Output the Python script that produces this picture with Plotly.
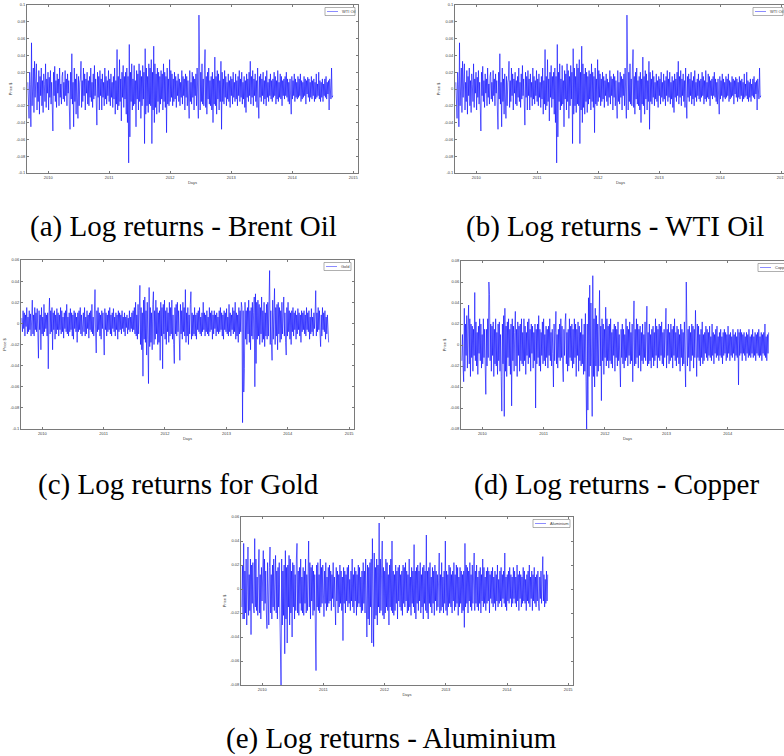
import numpy as np
import pandas as pd
import plotly.graph_objects as go

# ---------------- data (log returns, in thousandths) ----------------
start_date = "2009-09-01"
end_date = "2014-09-01"
year_ticks = ["2010", "2011", "2012", "2013", "2014", "2015"]

wti_milli = [
    8, -12, -35, 20, 5, -45, 55, -20, 12, 25, -28, 33, -10, 18, 30, -25, 8, -15, 22, -30,
    15, -8, 25, -20, 10, -28, 18, 5, -15, 30, -22, 12, -5, 20, -25, 14, -10, 22, -18, 8,
    -12, -50, 20, -8, 27, -15, 10, -22, 18, -5, 12, -20, 25, -10, 6, -18, 15, 20, -12, 8,
    -15, 22, -8, 12, -20, 18, -5, 10, -25, -48, 20, -12, 42, -18, 8, -45, 25, -15, 12, -30,
    18, -10, -35, 15, -20, 8, 12, 33, -22, 10, -15, 25, -8, 18, -25, 12, -5, 20, -18, 10,
    -20, 15, -10, 25, -15, 8, -22, 18, -12, 28, -8, 12, -18, -43, 20, -10, 15, -25, 22, -8,
    12, -25, 18, -10, 8, -20, 25, -12, 15, -18, 10, -8, 22, -15, 12, -20, 18, -10, 8, -22,
    15, -12, 25, -30, 10, -18, 47, -25, 15, -20, 35, -15, 12, -38, 20, -10, 28, -22, 15, -12,
    20, -30, 25, -40, 15, -88, 53, -57, 20, -15, 30, -25, 12, -20, 28, -18, 10, -45, 22, -12,
    18, -25, 30, -15, 22, -35, 15, -20, 28, -12, 20, -65, 48, -30, 25, -20, 15, -28, 30, -18,
    25, -20, 35, -65, 20, -25, 51, -40, 30, -22, 18, -30, 25, -15, 20, -28, 15, -18, 22, -12,
    18, -25, 30, -15, 20, -22, 15, -52, 25, -18, 12, -20, 35, -15, 22, -10, 18, -20, 12, -15,
    20, -12, 15, -22, 10, -8, 18, -15, 12, -20, 8, -10, 22, -18, 15, -8, 12, -25, 18, -10,
    15, -20, 10, -12, -35, 22, -15, 8, -18, 20, -10, 15, -25, 12, -8, 18, -20, 25, -15, -35,
    88, 45, -25, 20, -15, 30, -18, 12, -20, 25, 47, -22, 15, -30, 20, -12, 25, -18, 10, -20,
    15, -25, 20, -40, 12, -18, 38, -20, 15, -30, 22, -12, 18, -25, 10, -15, 33, -48, 20, -15,
    12, -18, 22, -10, 15, -20, 8, -12, 18, -15, 10, -22, 15, -8, 12, -18, 20, -10, 8, -15,
    18, -12, 10, -20, 15, -8, 22, -15, 12, -10, 20, -18, 8, -12, 15, -22, 10, -28, 18, -10,
    12, -15, 20, -8, 33, -18, 15, -10, 22, -20, 12, -8, 18, -15, 10, -22, 25, -12, -35, 15,
    -10, 18, -15, 12, -8, 20, -18, 10, -12, 15, -20, 22, -10, 8, -15, 12, -8, 18, -12, 10,
    -15, 12, -10, 20, -8, 15, -18, 10, -12, 22, -15, 8, -10, 18, -12, 15, -20, 10, -8, 12,
    -12, 15, -8, 20, -10, 12, -15, 8, -18, 12, -10, -30, 15, -12, 10, -8, 18, -15, 12, -10,
    8, -12, 15, -10, 12, -8, 18, -15, 10, -12, 8, -10, 15, -8, 12, -18, 10, -6, 14, -10,
    12, -15, 8, -10, 15, -12, 10, -8, 12, -15, 8, -12, 18, -10, 6, -8, 20, -12, 10, -15,
    8, -10, 12, -15, 6, -8, 12, -10, 15, -12, 8, -6, 10, -25, 12, -8, -12, 25, -10, -8,
]

gold_milli = [
    5, -8, 12, -5, 10, -12, 8, -3, 15, -10, 6, -8, 12, -6, 9, -12, 4, 22, -10, 8,
    -12, 15, -6, 10, -8, 14, -10, -33, 12, -6, 8, -25, 15, -10, 6, -12, 18, -8, 10, -5,
    8, -12, 10, -43, 6, 24, -10, 12, -8, 15, -25, 10, -6, 12, -15, 8, -10, 14, -6, 10,
    -12, 8, -6, 15, -10, 12, -8, 6, -14, 10, -5, 12, -8, 18, -10, 6, -12, 10, -8, 14,
    -6, 10, -12, 8, -15, 12, -5, 10, -8, 6, -18, 10, -8, 12, -6, 15, -10, 8, -12, 6,
    10, -8, 15, -12, 6, -10, 12, -5, 8, -14, 10, -6, 12, -8, 18, -10, 6, -12, 8, 32,
    -10, -28, 12, -8, 15, -6, 10, -12, 8, -15, 12, -5, 10, -8, -30, 14, -6, 10, -12, 8,
    -8, 12, -6, 15, -10, 8, -12, 10, -5, 14, -8, 6, -12, 10, -6, 8, -15, 12, -8, 10,
    -6, 8, -10, 12, -5, 6, -8, 10, -12, 6, -4, 8, -10, 5, -6, 12, -8, 6, -5, 10,
    -8, 12, -6, 15, -10, 20, -12, 8, -15, 18, -10, 12, 36, -20, 15, -25, 10, -50, 22, -15,
    25, -18, 12, -30, 20, -15, -57, 34, -22, 15, -18, 10, -25, 18, 30, -20, 12, -15, 22, -10,
    15, -20, 10, -18, 12, -35, 20, -12, 15, -43, 18, -10, 22, -15, 12, -20, 15, -8, 10, -18,
    20, -12, 15, -10, 22, -15, 8, -20, -38, 15, -10, 18, -12, 20, -8, 12, -15, -35, 18, -10,
    12, -15, 20, -8, 15, -12, 32, -18, 10, -12, 15, -20, 8, -10, 18, 30, -15, 10, -12, 8,
    -10, 15, -12, 8, -15, 10, -6, 12, -8, 15, -10, 6, -12, 10, -8, 20, -6, 10, -12, 8,
    -8, 12, -10, 6, -12, 15, -8, 10, -6, 12, -15, 8, -10, 12, -5, 8, -12, 10, -8, 6,
    -10, 12, -8, 15, -6, 10, -12, 8, -15, 12, -6, 10, -8, 14, -10, 6, -12, 18, -8, 10,
    -12, 8, -6, 15, -10, 12, -8, 20, -15, 10, -12, 8, -18, 15, -10, 12, -8, 20, 15, -94,
    12, -65, -43, 20, -15, 12, -20, 15, -10, 22, -18, 12, -25, 15, -12, 20, -15, 10, 25, -60,
    28, -38, 20, -15, 22, -12, 18, -20, 15, -10, 25, -18, 12, -15, 20, -22, 10, -12, 18, -15,
    20, -12, 15, 50, -20, 12, -18, -35, 22, -15, 10, 33, -20, 15, -12, 18, -25, 20, -10, 15,
    -18, 12, -15, 20, -10, 15, 25, -12, 10, -18, -30, 15, -12, 20, -8, 12, -15, 10, -20, 12,
    -8, 15, -12, 10, -6, 12, -15, 8, -10, 14, -6, 10, -12, 8, -18, 12, -8, 10, -6, 12,
    -10, 8, -12, 15, -6, 10, -8, 12, -15, 6, -10, 14, -8, 6, -12, 10, -5, 8, 31, -12,
    10, -8, 15, -6, 12, -10, -22, 8, -12, 15, -6, 10, -8, 12, -15, 6, -10, 8, -12, -18,
]

copper_milli = [
    -15, 10, -20, -35, 35, -25, 20, -10, 28, -22, 15, 38, -18, 25, -30, 20, -12, 18, -25, 15,
    -10, 50, -15, 22, -20, 12, -28, 18, -8, 25, -15, 20, -22, 10, -18, 25, -12, 15, -20, -47,
    15, -20, 25, -12, 60, 48, -15, 20, -25, 18, -10, 22, -30, 15, -18, 25, -20, 12, -28, 20,
    -15, 22, -25, 10, -30, -63, 20, -18, 28, -68, 35, -25, 18, -30, 22, -12, 25, -20, 15, -28,
    20, -58, 25, -15, 18, -25, 12, 32, -20, 15, -30, 22, -10, 18, -25, 20, -15, 25, -18, 12,
    -20, 25, -15, 18, -28, 12, -10, 22, -18, 25, -12, 15, -25, 20, -8, 18, -22, 12, -15, 20,
    -60, 15, -18, 20, -12, 28, -20, 15, -25, 12, -10, 22, -18, 25, -15, 10, -20, 18, -12, 15,
    -22, 18, -10, 25, -15, 12, -20, 15, -8, -40, 20, -15, 12, 32, -18, 10, -22, 15, -12, 20,
    -15, 25, -12, 18, -20, -35, 15, -10, 22, 30, -18, 12, -25, 15, -20, 25, -12, 18, -15, 20,
    -22, 15, -18, 25, -12, 20, -30, 15, -10, 22, -25, 18, -15, 12, -20, 25, -18, 10, -28, 20,
    -25, 30, -35, -80, 20, -62, 45, -30, 57, -20, 40, -25, -68, 66, -30, 25, -40, 35, -20, 28,
    -30, 20, -25, 15, 52, -20, 18, -53, 25, -15, 20, -28, 15, -12, 36, -20, 25, -15, 18, -22,
    20, -15, 25, -18, 12, -22, 15, -10, 20, -25, 18, -12, 15, -20, 22, -15, 10, -18, -40, 15,
    -12, 20, -18, 15, -22, 10, -15, 25, -12, 18, -20, 15, -10, 22, -18, 12, -15, 20, -35, 15,
    42, -20, 15, -18, 25, -12, 20, -22, 15, -10, 18, -25, 12, -15, 20, -18, 10, -12, 22, -15,
    15, 37, -20, 12, -18, 20, -15, 10, -22, 15, -12, 18, -20, 12, -15, 25, -10, 18, -22, 15,
    -12, 20, -15, 18, -10, 22, -18, 12, -20, 15, -12, 18, 35, -22, 15, -10, 20, -18, 12, -15,
    20, -12, 15, -22, 18, -10, 25, -15, 12, -20, 18, -12, 15, -18, 10, -25, 20, -12, 15, -20,
    12, -18, 22, -15, -40, 60, 30, -20, 15, -12, 18, -25, 12, -15, 20, -10, 18, -22, 15, -12,
    33, -15, -30, 20, -12, 18, -15, 10, -20, 15, -12, 22, -18, 10, -15, 12, -8, 18, -12, 15,
    -15, 12, -10, 18, -12, 8, -15, 20, -10, 12, -18, 10, -8, 15, -12, 18, -10, 8, -15, 12,
    -10, 15, -12, 8, -18, 12, -10, 15, -8, 12, -15, 10, -12, 18, -8, 10, -15, 12, -10, 8,
    -12, 15, -8, 10, -15, 12, -10, 8, -12, 15, -38, 12, -10, 15, -8, 12, -15, 10, -8, 12,
    -10, 8, -15, 12, -8, 10, -12, 15, -10, 8, -12, 10, -8, 15, -12, 8, -10, 12, -15, 10,
    -8, 12, -10, 15, -12, 8, -10, 12, -15, 10, -8, 12, -10, 20, -12, 8, -15, 10, -8, 12,
]

aluminium_milli = [
    -15, 20, -25, 38, -25, 15, -20, 25, -30, 18, 35, -22, 12, -18, 25, -38, 20, -12, 22, -15,
    -20, 42, -15, 25, -18, 10, -22, 15, 33, -20, 12, -25, 18, -10, 20, 32, -18, 25, -12, 15,
    -20, -33, 22, -15, -30, 18, 35, -20, 12, -25, 20, -15, 25, -18, 10, 28, -20, 15, -25, 18,
    -15, 22, -20, -43, -82, 25, -30, 15, -22, 20, -54, 32, -25, 18, -45, 20, -15, 28, -30, 25,
    -20, 15, -40, 22, -15, 20, -25, 12, -18, 25, 38, -20, 15, -22, 18, -12, 25, -18, 10, -20,
    18, -22, 15, -12, 25, -20, 12, -18, 20, 40, -15, 22, -25, 18, -10, 20, -22, 15, -18, 12,
    -35, -68, 20, -15, 22, -18, 12, -20, 25, -15, 18, -12, 20, -10, -23, 15, -12, 22, -18, 10,
    -15, 18, -12, 20, -10, 15, -18, 12, -8, 22, -15, 10, -12, -30, 18, -10, 15, -20, 12, -15,
    20, -12, 15, -18, 10, -43, 18, -12, 15, -20, 12, -10, 18, -15, 20, -12, 8, -18, 15, -10,
    25, -15, 12, -20, 18, -10, 15, -22, 12, -15, 20, -12, 18, -15, 10, -20, 15, -18, 22, -12,
    15, -20, 25, -15, -40, 20, -25, 18, -30, 22, -15, 25, -45, 42, -20, -48, 30, -25, 18, -22,
    25, -30, 20, -15, 55, -20, 25, -18, 15, 40, -22, 18, -25, 15, -20, 25, -15, 22, -18, 12,
    -30, 20, -15, 25, -18, 40, -20, 15, -22, 12, -18, 20, -12, 15, -25, 18, -10, 20, -15, 12,
    -18, 15, -22, 20, -12, 18, -15, 22, -10, 15, -20, 12, -18, 25, -15, 10, -22, 18, -12, 15,
    -15, 37, -20, 15, -25, 18, -12, 20, -18, 15, -10, 22, -20, 12, -15, 18, -25, 20, -12, 15,
    -18, 45, -20, 15, -25, 18, -12, 22, -15, 10, -20, 18, -12, 15, -22, 20, -10, 15, -18, 12,
    -15, 18, 30, -20, 12, -18, 22, -15, 10, -20, 15, -12, 40, -18, 15, -22, 12, -15, 20, -12,
    18, -15, 12, -20, 15, -10, 22, -18, 12, -15, 20, -12, 18, -22, 10, -15, 18, -12, 15, -20,
    12, -18, 15, -32, 38, -15, 20, -12, 18, -20, 15, -10, 22, -15, 12, -18, 20, -12, 15, 30,
    -18, 15, -12, 20, -15, 10, -18, 15, -12, 18, -20, 12, -10, 25, -15, 18, -12, 10, -18, 15,
    -12, 18, -10, 15, -20, 12, -8, 15, -12, 18, -15, 10, -12, 15, -18, 12, -10, 20, -15, 8,
    -12, 15, -10, 18, -15, 12, -8, 15, -12, 30, -15, 10, -18, 12, -10, 15, -12, 18, -8, 12,
    -15, 10, -12, 18, -8, 15, -12, 10, -15, 20, -10, 12, -18, 15, -8, 12, -15, 10, -12, 18,
    -10, 15, -12, 8, -18, 12, -10, 15, -12, 20, -15, 10, -8, 15, -18, 12, -10, 18, -12, 10,
    -15, 12, -10, 15, -12, -18, 10, -8, 15, -12, 10, 27, -10, 12, -15, 8, -12, 15, -10, 12,
]

legend_names = ["WTI Oil", "WTI Oil", "Gold", "Copper", "Aluminium"]
captions = [
    "(a) Log returns - Brent Oil",
    "(b) Log returns - WTI Oil",
    "(c) Log returns for Gold",
    "(d) Log returns - Copper",
    "(e) Log returns - Aluminium",
]
y_limits = [(-0.1, 0.1), (-0.1, 0.1), (-0.1, 0.06), (-0.08, 0.08), (-0.08, 0.06)]
x_title = "Days"
y_title = "Price $"

# ---------------- layout helpers ----------------
W, H = 800, 756
series_list = [wti_milli, wti_milli, gold_milli, copper_milli, aluminium_milli]
# pixel boxes of plot areas (x0, y0, x1, y1)
boxes = [
    (27, 5, 358, 173),
    (455, 5, 786, 173),
    (21, 260, 354, 429),
    (461, 261, 794, 429),
    (241, 517, 573, 685),
]
legend_w = [30, 30, 27, 33, 37]
caption_pos = [(183, 226), (615, 226), (178, 484), (616, 484), (391, 738)]
x_range = ["2009-08-27", "2015-01-30"]

fig = go.Figure()
AX = "#7a7a7a"
TXT = "#404040"
tick_font = dict(family="Liberation Sans, Arial, sans-serif", size=4, color=TXT)
cap_font = dict(family="Liberation Serif, 'Times New Roman', Times, serif", size=29, color="black")

shapes = []
annotations = []
for k, (ser, box, (lo, hi), lname, lw) in enumerate(
        zip(series_list, boxes, y_limits, legend_names, legend_w), start=1):
    sfx = "" if k == 1 else str(k)
    x0, y0, x1, y1 = box
    pw, ph = x1 - x0, y1 - y0
    days = pd.date_range(start_date, end_date, periods=len(ser))
    fig.add_trace(go.Scatter(
        x=days, y=np.array(ser) / 1000.0, mode="lines",
        line=dict(color="rgb(0,0,255)", width=0.6),
        xaxis="x" + sfx, yaxis="y" + sfx, showlegend=False, hoverinfo="skip"))
    yt = np.round(np.arange(lo, hi + 1e-9, 0.02), 2)
    ylab = [f"{v:g}" for v in yt]
    fig.layout["xaxis" + sfx] = dict(
        domain=[x0 / W, x1 / W], anchor="y" + sfx, type="date", range=x_range,
        tickvals=[f"{y}-01-01" for y in year_ticks], ticktext=year_ticks,
        ticks="inside", ticklen=2, tickwidth=0.6, tickcolor=AX,
        showline=True, linecolor=AX, linewidth=0.8, mirror="ticks",
        showgrid=False, zeroline=False, tickfont=tick_font,
        title=dict(text=x_title, font=tick_font, standoff=2), automargin=False)
    fig.layout["yaxis" + sfx] = dict(
        domain=[1 - y1 / H, 1 - y0 / H], anchor="x" + sfx, range=[lo, hi],
        tickvals=list(yt), ticktext=ylab,
        ticks="inside", ticklen=2, tickwidth=0.6, tickcolor=AX,
        showline=True, linecolor=AX, linewidth=0.8, mirror="ticks",
        showgrid=False, zeroline=False, tickfont=tick_font,
        title=dict(text=y_title, font=tick_font, standoff=3), automargin=False)
    # legend box drawn in axis-domain coordinates
    xr, yr = f"x{sfx} domain", f"y{sfx} domain"
    bx1 = 1 - 3 / pw
    bx0 = bx1 - lw / pw
    by1 = 1 - 2.5 / ph
    by0 = by1 - 8 / ph
    ym = (by0 + by1) / 2
    shapes.append(dict(type="rect", xref=xr, yref=yr, x0=bx0, x1=bx1, y0=by0, y1=by1,
                       line=dict(color=AX, width=0.6), fillcolor="white", layer="above"))
    shapes.append(dict(type="line", xref=xr, yref=yr, x0=bx0 + 2 / pw, x1=bx0 + 13 / pw,
                       y0=ym, y1=ym, line=dict(color="rgb(110,110,255)", width=0.8), layer="above"))
    annotations.append(dict(text=lname, xref=xr, yref=yr, x=bx0 + 14.5 / pw, y=ym,
                            xanchor="left", yanchor="middle", showarrow=False,
                            font=dict(family="Liberation Sans, Arial, sans-serif", size=4, color=TXT)))

for cap, (cx, cy) in zip(captions, caption_pos):
    annotations.append(dict(text=cap, xref="paper", yref="paper", x=cx / W, y=1 - cy / H,
                            xanchor="center", yanchor="middle", showarrow=False,
                            font=cap_font))

fig.update_layout(
    width=W, height=H, margin=dict(l=0, r=0, t=0, b=0),
    paper_bgcolor="white", plot_bgcolor="white",
    shapes=shapes, annotations=annotations, showlegend=False,
)

fig.write_html(
    "out.html",
    config={"displayModeBar": False},
    post_script="document.body.style.margin='0';document.body.style.overflow='hidden';",
)
